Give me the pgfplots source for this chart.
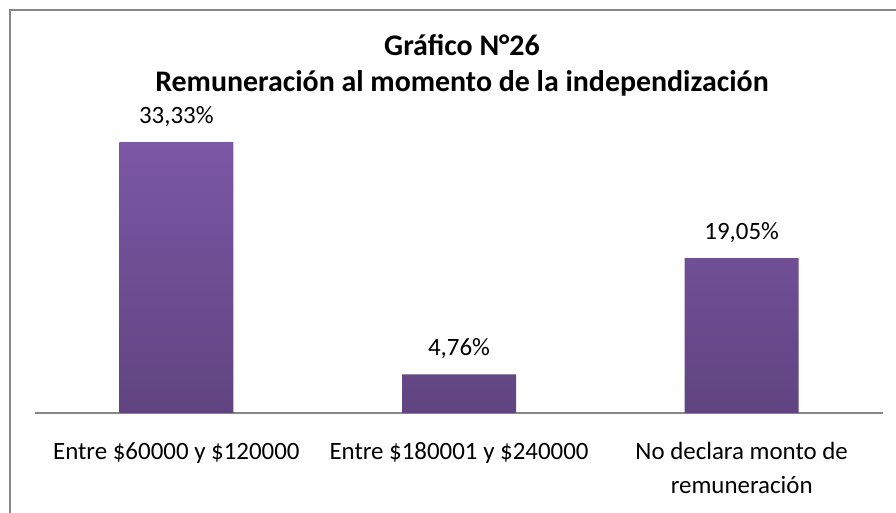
\documentclass[border=0pt]{standalone}
\usepackage{fontspec}
\setmainfont{Carlito}
\usepackage{pgfplots}
\pgfplotsset{compat=1.18}
\definecolor{bartop}{RGB}{124,87,166}
\definecolor{barbot}{RGB}{96,68,128}
\definecolor{framegray}{RGB}{134,134,134}
\begin{document}
\begin{tikzpicture}
\draw[framegray, line width=2bp] (10bp,-5bp) -- (10bp,503bp) -- (900bp,503bp);
\node[font=\bfseries\fontsize{30}{36}\selectfont, align=center] at (462bp,448bp) {Gráfico N°26\\Remuneración al momento de la independización};
\begin{axis}[
  at={(35bp,100bp)}, anchor=south west,
  scale only axis, width=848bp, height=325.2bp,
  xmin=-0.5, xmax=2.5, ymin=0, ymax=40,
  hide y axis,
  axis x line*=bottom,
  x axis line style={framegray, line width=1.6bp, -},
  xtick={0,1,2},
  xticklabels={{Entre \$60000 y \$120000},{Entre \$180001 y \$240000},{No declara monto de\\remuneración}},
  xticklabel style={font=\fontsize{25}{34}\selectfont, align=center, yshift=-26bp},
  major tick length=0pt,
  ybar, bar width=114bp,
  nodes near coords,
  point meta=explicit symbolic,
  every node near coord/.append style={font=\fontsize{25}{28}\selectfont, yshift=12bp},
  clip=false,
]
\addplot[draw=none, top color=bartop, bottom color=barbot] table[meta=label] {
x y label
0 33.33 {33,33\%}
1 4.76 {4,76\%}
2 19.05 {19,05\%}
};
\end{axis}
\pgfresetboundingbox
\path[use as bounding box] (0bp,0bp) rectangle (896bp,513bp);
\end{tikzpicture}
\end{document}
